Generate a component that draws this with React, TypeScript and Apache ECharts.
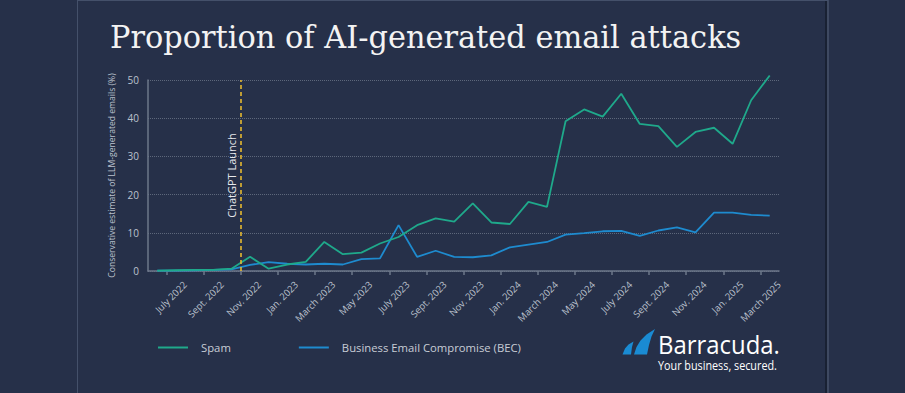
import React, { useEffect, useRef } from "react";
import * as echarts from "echarts";

const MONTHS = [
  "June 2022", "July 2022", "Aug. 2022", "Sept. 2022", "Oct. 2022", "Nov. 2022", "Dec. 2022",
  "Jan. 2023", "Feb. 2023", "March 2023", "April 2023", "May 2023", "June 2023", "July 2023",
  "Aug. 2023", "Sept. 2023", "Oct. 2023", "Nov. 2023", "Dec. 2023", "Jan. 2024", "Feb. 2024",
  "March 2024", "April 2024", "May 2024", "June 2024", "July 2024", "Aug. 2024", "Sept. 2024",
  "Oct. 2024", "Nov. 2024", "Dec. 2024", "Jan. 2025", "Feb. 2025", "March 2025",
];

const SPAM = [
  0.1, 0.2, 0.3, 0.3, 0.6, 3.7, 0.6, 1.7, 2.4, 7.6, 4.4, 4.8, 7.2, 8.9, 12.0, 13.8, 12.9,
  17.7, 12.7, 12.3, 18.1, 16.8, 39.2, 42.3, 40.4, 46.4, 38.5, 37.9, 32.5, 36.4, 37.5, 33.3,
  44.7, 51.2,
];

const BEC = [
  0.1, 0.1, 0.2, 0.3, 0.4, 1.6, 2.3, 1.9, 1.7, 1.9, 1.7, 3.1, 3.3, 12.0, 3.7, 5.3, 3.7,
  3.6, 4.1, 6.2, 6.9, 7.6, 9.5, 9.9, 10.4, 10.5, 9.2, 10.6, 11.4, 10.1, 15.3, 15.3, 14.7,
  14.5,
];

const TICK_LABELS = [
  "July 2022", "Sept. 2022", "Nov. 2022", "Jan. 2023", "March 2023", "May 2023", "July 2023",
  "Sept. 2023", "Nov. 2023", "Jan. 2024", "March 2024", "May 2024", "July 2024", "Sept. 2024",
  "Nov. 2024", "Jan. 2025", "March 2025",
];

const Y_TICKS = [0, 10, 20, 30, 40, 50];

const EVENT_MONTH = "Nov. 2022";
const EVENT_LABEL = "ChatGPT Launch";
const SERIES_NAMES = ["Spam", "Business Email Compromise (BEC)"];

const BG = "#263049";
const AXIS = "#6d778a";
const TEXT = "#bcc2ce";
const FONT = "Open Sans";

export default function App() {
  const ref = useRef<HTMLDivElement>(null);

  useEffect(() => {
    if (!ref.current) return;
    const chart = echarts.init(ref.current, null, { renderer: "svg" });

    const tickPos = TICK_LABELS.map((l) => MONTHS.indexOf(l));
    const labelPos = tickPos.map((p) => p + 1);
    const toPoints = (arr: number[]) => arr.map((v, i) => [i + 0.5, v]);

    const option: any = {
      animation: false,
      backgroundColor: BG,
      textStyle: { fontFamily: FONT },
      grid: { left: 148, right: 126, top: 80, bottom: 122 },
      xAxis: {
        type: "value",
        min: 0,
        max: MONTHS.length,
        axisLine: { show: true, lineStyle: { color: AXIS, width: 1.5 } },
        axisTick: {
          show: true,
          customValues: tickPos,
          length: 4,
          lineStyle: { color: AXIS, width: 1.5 },
        },
        axisLabel: {
          customValues: labelPos,
          formatter: (v: number) => MONTHS[Math.round(v) - 1] ?? "",
          rotate: 45,
          margin: 12,
          color: TEXT,
          fontSize: 9.5,
          fontFamily: FONT,
        },
        splitLine: { show: false },
      },
      yAxis: {
        type: "value",
        min: Y_TICKS[0],
        max: Y_TICKS[Y_TICKS.length - 1],
        interval: Y_TICKS[1] - Y_TICKS[0],
        name: "Conservative estimate of LLM-generated emails (%)",
        nameLocation: "middle",
        nameGap: 32,
        nameTextStyle: { color: TEXT, fontSize: 8.6, fontFamily: FONT },
        axisLine: { show: true, lineStyle: { color: AXIS, width: 1.5 } },
        axisTick: { show: false },
        axisLabel: { color: TEXT, fontSize: 10, margin: 9, fontFamily: FONT },
        splitLine: { show: true, lineStyle: { color: "#5d677b", type: "dotted", width: 1 } },
      },
      legend: {
        data: SERIES_NAMES,
        left: 153,
        top: 337,
        icon: "rect",
        itemWidth: 30,
        itemHeight: 2,
        itemGap: 68,
        textStyle: { color: "#c8cdd6", fontSize: 11.3, fontFamily: FONT, padding: [0, 0, 0, 8] },
      },
      series: [
        {
          name: SERIES_NAMES[0],
          type: "line",
          data: toPoints(SPAM),
          symbol: "none",
          clip: false,
          color: "#1fa98b",
          lineStyle: { width: 1.8, color: "#1fa98b" },
          z: 3,
          markLine: {
            silent: true,
            symbol: ["none", "none"],
            lineStyle: { color: "#f2c12e", type: [4, 3], width: 1.5 },
            label: {
              show: true,
              formatter: EVENT_LABEL,
              position: "insideMiddleTop",
              distance: 4,
              color: "#e6e8ec",
              fontSize: 11,
              fontFamily: FONT,
            },
            data: [{ xAxis: MONTHS.indexOf(EVENT_MONTH) }],
          },
        },
        {
          name: SERIES_NAMES[1],
          type: "line",
          data: toPoints(BEC),
          symbol: "none",
          clip: false,
          color: "#1e8bcf",
          lineStyle: { width: 1.8, color: "#1e8bcf" },
          z: 2,
        },
      ],
      graphic: [
        { type: "line", shape: { x1: 77.5, y1: 0, x2: 77.5, y2: 393 }, style: { stroke: "#44506a", lineWidth: 1 } },
        { type: "line", shape: { x1: 826, y1: 0, x2: 826, y2: 393 }, style: { stroke: "#161d2d", lineWidth: 1.5 } },
        { type: "line", shape: { x1: 828, y1: 0, x2: 828, y2: 393 }, style: { stroke: "#56627b", lineWidth: 1 } },
        { type: "line", shape: { x1: 77, y1: 0.5, x2: 828, y2: 0.5 }, style: { stroke: "#44506a", lineWidth: 1 } },
        {
          type: "text",
          x: 110,
          y: 21,
          scaleX: 0.95,
          style: {
            text: "Proportion of AI-generated email attacks",
            fill: "#f3f3f3",
            font: '32px "DejaVu Serif"',
            verticalAlign: "top",
          },
        },
        {
          type: "polygon",
          shape: { points: [[622.5, 354.5], [625, 348.5], [628.5, 344.5], [633.5, 341.5], [632, 347], [631, 354.5]] },
          style: { fill: "#1a8bd3" },
        },
        {
          type: "polygon",
          shape: {
            points: [[634, 354.5], [636.5, 347], [640.5, 340.5], [646.5, 334.5], [655, 329], [651.5, 336.5], [649, 345], [647, 354.5]],
          },
          style: { fill: "#1a8bd3" },
        },
        {
          type: "text",
          x: 658,
          y: 344,
          scaleX: 0.92,
          style: { text: "Barracuda.", fill: "#ffffff", font: '26px "Open Sans"', verticalAlign: "middle" },
        },
        {
          type: "text",
          x: 658,
          y: 365.5,
          scaleX: 0.9,
          style: { text: "Your business, secured.", fill: "#ffffff", font: '12px "Open Sans"', verticalAlign: "middle" },
        },
      ],
    };

    chart.setOption(option);
    return () => chart.dispose();
  }, []);

  return (
    <div
      ref={ref}
      style={{ position: "fixed", left: 0, top: 0, width: 905, height: 393 }}
    />
  );
}
